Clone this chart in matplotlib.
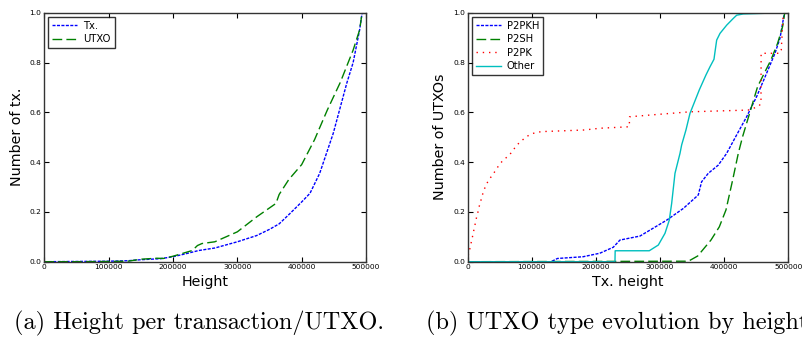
import matplotlib
matplotlib.use('Agg')
import matplotlib.pyplot as plt

# (a) cumulative fraction per height
tx_height = [0, 50000, 100000, 130000, 150000, 180000, 200000, 220000, 240000, 265000,
             300000, 330000, 350000, 365000, 382000, 400000, 413000, 428000, 449000,
             470000, 480000, 490000, 494000]
tx_frac = [0, 0.001, 0.002, 0.004, 0.008, 0.012, 0.02, 0.032, 0.045, 0.055,
           0.08, 0.105, 0.13, 0.152, 0.194, 0.24, 0.275, 0.355, 0.515,
           0.716, 0.8, 0.93, 1.0]

utxo_height = [0, 50000, 100000, 130000, 145000, 150000, 175000, 185000, 200000, 230000,
               238000, 245000, 265000, 300000, 330000, 360000, 365000, 380000, 400000,
               420000, 440000, 460000, 480000, 490000, 494000]
utxo_frac = [0, 0, 0.001, 0.002, 0.008, 0.01, 0.014, 0.013, 0.022, 0.045,
             0.065, 0.073, 0.08, 0.12, 0.18, 0.234, 0.27, 0.33, 0.39,
             0.49, 0.61, 0.72, 0.85, 0.93, 1.0]

# (b) UTXO type evolution
p2pkh_height = [0, 130000, 140000, 180000, 206000, 227000, 237500, 268700, 284300, 310400,
                336300, 359600, 364800, 375200, 390800, 403800, 419400, 435000, 450600,
                466200, 479200, 487000, 494000]
p2pkh_frac = [0, 0, 0.013, 0.02, 0.034, 0.058, 0.087, 0.103, 0.127, 0.167,
              0.214, 0.268, 0.321, 0.355, 0.388, 0.435, 0.509, 0.582, 0.663,
              0.757, 0.837, 0.897, 1.0]

p2sh_height = [0, 340000, 345600, 358700, 379400, 392400, 402800, 413200, 422000, 428700,
               436500, 444300, 452100, 462500, 472900, 483300, 491100, 494400]
p2sh_frac = [0, 0.002, 0.004, 0.023, 0.087, 0.14, 0.208, 0.328, 0.435, 0.502,
             0.569, 0.636, 0.703, 0.757, 0.81, 0.877, 0.944, 1.0]

p2pk_height = [0, 1000, 3600, 5600, 7800, 9900, 11900, 14000, 16600, 18700, 21800, 24400,
               28000, 32700, 39000, 44100, 49900, 56600, 64400, 70600, 76900, 84200,
               92000, 101400, 111200, 120500, 151700, 181800, 206300, 252000, 252500,
               284300, 346700, 437600, 453200, 457400, 457600, 487000, 489000, 492200]
p2pk_frac = [0, 0.027, 0.054, 0.078, 0.104, 0.13, 0.154, 0.18, 0.205, 0.23, 0.256, 0.281,
             0.304, 0.328, 0.349, 0.369, 0.392, 0.411, 0.426, 0.447, 0.469, 0.486,
             0.503, 0.515, 0.521, 0.523, 0.526, 0.529, 0.536, 0.542, 0.582,
             0.589, 0.602, 0.609, 0.623, 0.635, 0.837, 0.837, 0.85, 1.0]

other_height = [0, 229700, 230000, 283200, 297300, 307700, 314400, 318100, 323300, 331100,
                333700, 340400, 346700, 352900, 361200, 371600, 377900, 384100, 385700,
                388300, 393500, 403900, 414200, 419500, 429800, 494000]
other_frac = [0, 0, 0.044, 0.044, 0.067, 0.114, 0.167, 0.234, 0.355, 0.435,
              0.469, 0.529, 0.596, 0.636, 0.69, 0.75, 0.783, 0.813, 0.843,
              0.89, 0.917, 0.95, 0.977, 0.99, 0.995, 1.0]

plt.rcParams['font.family'] = ['DejaVu Sans']

fig = plt.figure(figsize=(8.03, 3.37), dpi=100)
ax1 = fig.add_axes([0.0552, 0.2234, 0.4006, 0.7389])
ax2 = fig.add_axes([0.5824, 0.2234, 0.3993, 0.7389])

blue_ls = (0, (2.2, 1.0))
green_ls = (0, (7, 3))
red_ls = (0, (1, 3.5))

ax1.plot(tx_height, tx_frac, color='b', linestyle=blue_ls, linewidth=1, label='Tx.')
ax1.plot(utxo_height, utxo_frac, color='g', linestyle=green_ls, linewidth=1, label='UTXO')
ax1.set_xlabel('Height', fontsize=10.3, labelpad=3)
ax1.set_ylabel('Number of tx.', fontsize=10.3, labelpad=4)

ax2.plot(p2pkh_height, p2pkh_frac, color='b', linestyle=blue_ls, linewidth=1, label='P2PKH')
ax2.plot(p2sh_height, p2sh_frac, color='g', linestyle=green_ls, linewidth=1, label='P2SH')
ax2.plot(p2pk_height, p2pk_frac, color='r', linestyle=red_ls, linewidth=1, label='P2PK')
ax2.plot(other_height, other_frac, color='c', linestyle='-', linewidth=1, label='Other')
ax2.set_xlabel('Tx. height', fontsize=10.3, labelpad=3)
ax2.set_ylabel('Number of UTXOs', fontsize=10.3, labelpad=4)

for ax in (ax1, ax2):
    ax.set_xlim(0, 500000)
    ax.set_ylim(0, 1.0)
    ax.set_xticks([0, 100000, 200000, 300000, 400000, 500000])
    ax.set_xticklabels(['0', '100000', '200000', '300000', '400000', '500000'])
    ax.set_yticks([0.0, 0.2, 0.4, 0.6, 0.8, 1.0])
    ax.set_yticklabels(['0.0', '0.2', '0.4', '0.6', '0.8', '1.0'])
    ax.tick_params(direction='in', top=True, right=True, length=3.5, width=0.8,
                   labelsize=5.4, pad=2)
    for s in ax.spines.values():
        s.set_linewidth(1.0)
        s.set_color('#333333')
    leg = ax.legend(loc='upper left', fontsize=7.2, frameon=True, fancybox=False,
                    handlelength=2.5, borderpad=0.4, labelspacing=0.35,
                    handletextpad=0.6, borderaxespad=0.4)
    leg.get_frame().set_edgecolor('black')
    leg.get_frame().set_linewidth(1.0)

cap = ['cmr10', 'DejaVu Serif']
fig.text(14 / 803, 1 - 323 / 337, '(a) Height per transaction/UTXO.', fontsize=17.5,
         family=cap, ha='left', va='center')
fig.text(426 / 803, 1 - 323 / 337, '(b) UTXO type evolution by height.', fontsize=17.5,
         family=cap, ha='left', va='center')

fig.savefig('out.png', dpi=100)
